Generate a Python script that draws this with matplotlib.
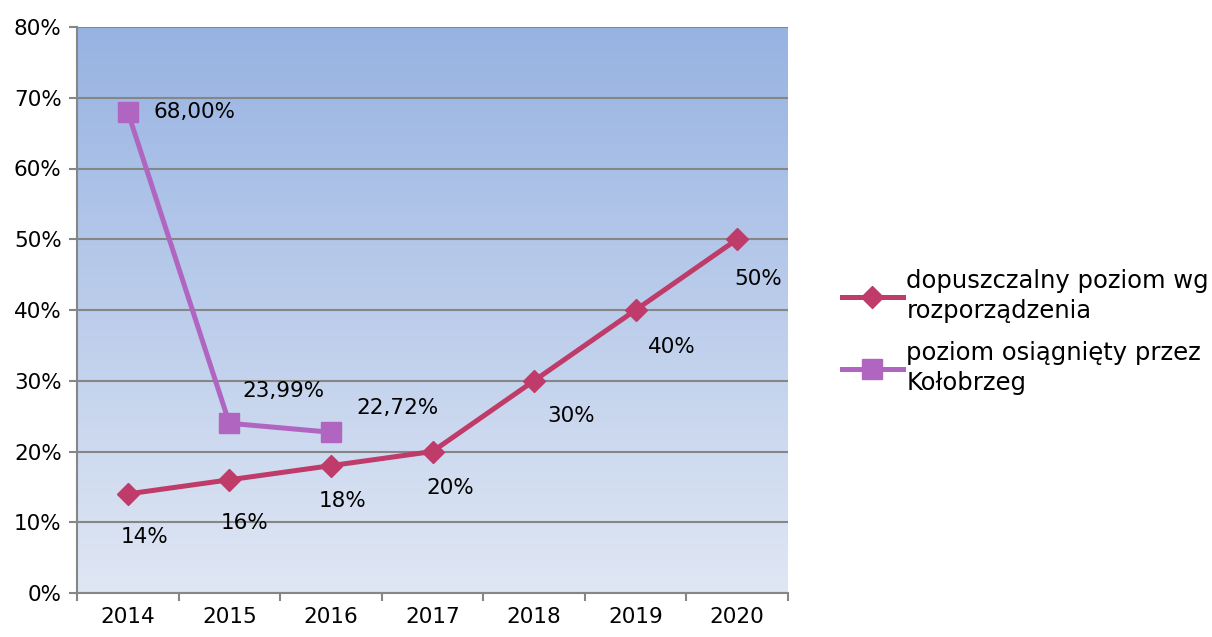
import numpy as np
import matplotlib
matplotlib.use("Agg")
import matplotlib.pyplot as plt
from matplotlib.colors import LinearSegmentedColormap

# ── Dane ────────────────────────────────────────────────────────────────────
years = ["2014", "2015", "2016", "2017", "2018", "2019", "2020"]
dopuszczalny = [14, 16, 18, 20, 30, 40, 50]
dopuszczalny_labels = ["14%", "16%", "18%", "20%", "30%", "40%", "50%"]
osiagniety = [68.00, 23.99, 22.72]
osiagniety_labels = ["68,00%", "23,99%", "22,72%"]
y_ticks = [0, 10, 20, 30, 40, 50, 60, 70, 80]

label_dop = "dopuszczalny poziom wg\nrozporządzenia"
label_osi = "poziom osiągnięty przez\nKołobrzeg"

c_dop = "#be3b6a"
c_osi = "#b066c0"
c_grid = "#868686"

plt.rcParams["font.family"] = ["DejaVu Sans"]

fig = plt.figure(figsize=(12.12, 6.37), dpi=100)
ax = fig.add_axes([77 / 1212, 1 - 593 / 637, (788 - 77) / 1212, (593 - 27) / 637])

# tło z gradientem (jasne na dole, ciemniejsze u góry)
cmap = LinearSegmentedColormap.from_list("bg", ["#e0e7f4", "#97b3e2"])
grad = np.linspace(0, 1, 256).reshape(-1, 1)
ax.imshow(grad, cmap=cmap, aspect="auto", origin="lower",
          extent=[-0.5, 6.5, 0, 80], zorder=0)

x = np.arange(len(years))
ax.plot(x, dopuszczalny, color=c_dop, lw=3.6, marker="D", ms=11,
        label=label_dop, zorder=3)
ax.plot(x[:len(osiagniety)], osiagniety, color=c_osi, lw=3.6, marker="s",
        ms=14, label=label_osi, zorder=3)

# etykiety danych
dop_off = [(17, -43), (15, -43), (12, -35), (18, -36), (37, -35), (36, -37), (21, -40)]
for xi, yi, txt, off in zip(x, dopuszczalny, dopuszczalny_labels, dop_off):
    ax.annotate(txt, (xi, yi), xytext=off, textcoords="offset pixels",
                ha="center", va="center", fontsize=15.5)
osi_off = [(67, 0), (54, 32), (67, 24)]
for xi, yi, txt, off in zip(x, osiagniety, osiagniety_labels, osi_off):
    ax.annotate(txt, (xi, yi), xytext=off, textcoords="offset pixels",
                ha="center", va="center", fontsize=15.5)

ax.set_xlim(-0.5, 6.5)
ax.set_ylim(0, 80)
ax.set_yticks(y_ticks)
ax.set_yticklabels([f"{v}%" for v in y_ticks], fontsize=15.5)
ax.set_xticks(np.arange(-0.5, 7, 1))
ax.set_xticklabels([])
ax.set_xticks(x, minor=True)
ax.set_xticklabels(years, minor=True, fontsize=15.5)
ax.tick_params(axis="x", which="minor", length=0, pad=10)
ax.tick_params(axis="x", which="major", length=6, color=c_grid, width=1.5)
ax.tick_params(axis="y", length=6, color=c_grid, width=1.5, pad=5)

ax.grid(axis="y", color=c_grid, lw=1.5)
ax.set_axisbelow(False)
for g in ax.get_ygridlines():
    g.set_zorder(1)
for s in ["top", "right"]:
    ax.spines[s].set_visible(False)
for s in ["left", "bottom"]:
    ax.spines[s].set_color(c_grid)
    ax.spines[s].set_linewidth(1.5)

leg = fig.legend(loc="center left", bbox_to_anchor=(820 / 1212, 1 - 332 / 637),
                 frameon=False, fontsize=17.5, handlelength=2.5,
                 handletextpad=0.15, labelspacing=0.7)
for t in leg.get_texts():
    t.set_linespacing(1.35)

fig.savefig("out.png", dpi=100)
